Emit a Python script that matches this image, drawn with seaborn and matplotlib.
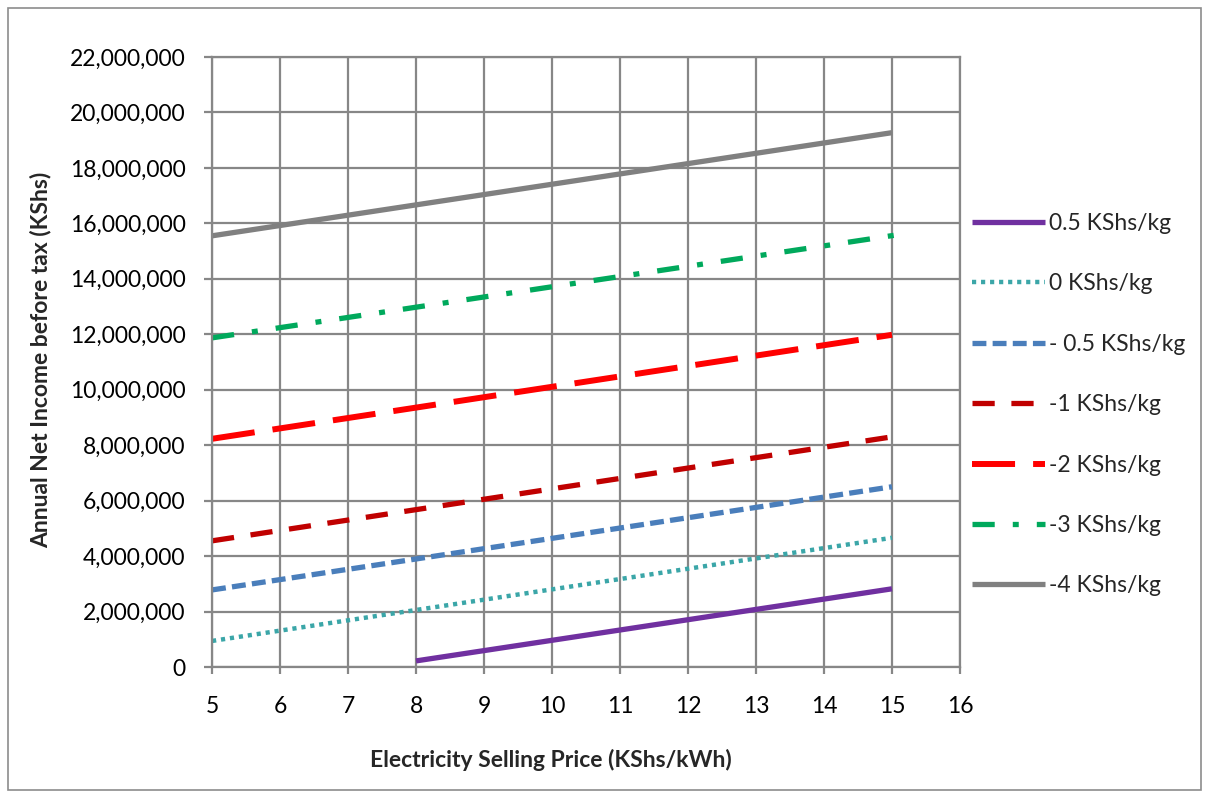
import matplotlib
matplotlib.use("Agg")
import matplotlib.pyplot as plt
import matplotlib.ticker as mticker
from matplotlib.patches import Rectangle
import seaborn as sns
import pandas as pd

# values (KShs), lines are straight between end points
labels = ["0.5 KShs/kg", "0 KShs/kg", "- 0.5 KShs/kg", "-1 KShs/kg",
          "-2 KShs/kg", "-3 KShs/kg", "-4 KShs/kg"]
x_start = [8, 5, 5, 5, 5, 5, 5]
x_end = [15, 15, 15, 15, 15, 15.2, 15]
y_start = [220000, 940000, 2780000, 4550000, 8230000, 11870000, 15550000]
y_end = [2820000, 4660000, 6500000, 8300000, 11980000, 15630000, 19270000]

colors = ["#7030A0", "#3BA6A8", "#4A7EBB", "#C00000", "#FF0000", "#00A95C", "#808080"]
widths = [3.8, 3.2, 3.8, 3.8, 4.3, 3.8, 3.8]
styles = ["-", (0, (3, 3.5)), (0, (10, 4.5)), (0, (16, 12)),
          (0, (31, 13)), (0, (16, 13, 4.3, 13)), "-"]

sns.set_style("white")
plt.rcParams["font.family"] = ["Lato", "DejaVu Sans"]
plt.rcParams["lines.scale_dashes"] = False

fig = plt.figure(figsize=(12.09, 7.99), dpi=100)
ax = fig.add_axes([0.1754, 0.1652, 0.6186, 0.7635])

for i in range(len(labels)):
    df = pd.DataFrame({"x": [x_start[i], x_end[i]], "y": [y_start[i], y_end[i]]})
    sns.lineplot(data=df, x="x", y="y", ax=ax, color=colors[i], linewidth=widths[i],
                 linestyle=styles[i], label=labels[i], solid_capstyle="butt",
                 dash_capstyle="butt")

ax.set_xlim(5, 16)
ax.set_ylim(0, 22000000)
ax.set_xticks(range(5, 17))
ax.set_yticks(range(0, 22000001, 2000000))
ax.yaxis.set_major_formatter(mticker.FuncFormatter(lambda v, p: f"{int(v):,}"))
ax.grid(True, color="#878787", linewidth=1.6)
ax.set_axisbelow(True)
for s in ax.spines.values():
    s.set_color("#878787")
    s.set_linewidth(1.6)
ax.tick_params(axis="both", labelsize=16.5, colors="#878787", labelcolor="black",
               width=1.6, direction="out")
ax.tick_params(axis="x", length=5, pad=16)
ax.tick_params(axis="y", length=6, pad=13)
ax.tick_params(bottom=True, left=True)

ax.set_xlabel("Electricity Selling Price (KShs/kWh)", fontsize=16.5, fontweight="bold")
ax.set_ylabel("Annual Net Income before tax (KShs)", fontsize=16.5, fontweight="bold")
ax.xaxis.set_label_coords(0.453, -0.135)
ax.yaxis.set_label_coords(-0.215, 0.503)

ax.legend(loc="upper left", bbox_to_anchor=(0.796, 0.745), bbox_transform=fig.transFigure,
          frameon=False, fontsize=16.5, handlelength=3.2, handletextpad=0.2,
          labelspacing=1.72, borderaxespad=0)

fig.patches.append(Rectangle((0.007, 0.011), 0.986, 0.979, transform=fig.transFigure,
                             fill=False, edgecolor="#8c8c8c", linewidth=1.2))

fig.savefig("out.png", dpi=100)
